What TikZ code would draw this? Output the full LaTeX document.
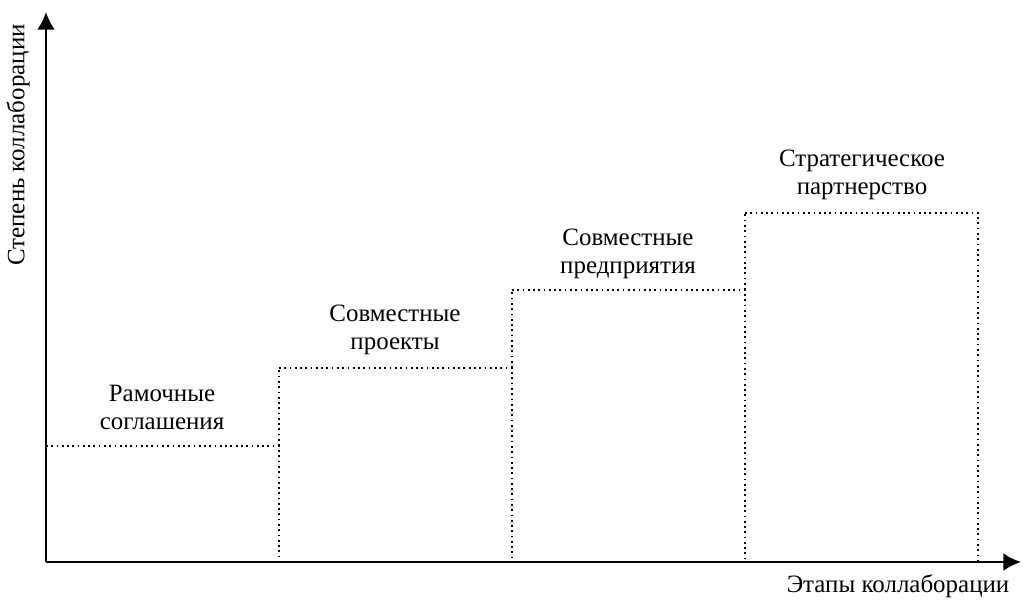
\documentclass[tikz,border=0pt]{standalone}
\usepackage{fontspec}
\setmainfont{Liberation Serif}
\usetikzlibrary{arrows.meta}
\begin{document}
\begin{tikzpicture}[x = .02cm, y = -.02cm,
  axis/.style = {line width = 1.1pt, -{Latex[length = 10pt, width = 10pt]}},
  stage/.style = {dotted, line width = 1pt},
  lbl/.style = {font = \fontsize{14.2}{16}\selectfont, align = center}]
  \useasboundingbox (0, 0) rectangle (1024, 599);
  % axes
  \coordinate (O) at (46, 562);
  \coordinate (Ytop) at (46, 12);
  \coordinate (Xend) at (1021, 562);
  \draw[axis] (O) -- (Ytop);
  \draw[axis] (O) -- (Xend);
  \node[lbl, rotate = 90] (ylab) at (18, 145) {Степень коллаборации};
  \node[lbl] (xlab) at (898, 586) {Этапы коллаборации};
  % stages
  \draw[stage] (46, 446) coordinate (s1) -- (279, 446) coordinate (s1r)
  -- (279, 562);
  \draw[stage] (279, 368) coordinate (s2) -- (512, 368) coordinate (s2r)
  -- (512, 562);
  \draw[stage] (279, 446) -- (s2);
  \draw[stage] (512, 290) coordinate (s3) -- (745, 290) coordinate (s3r)
  -- (745, 562);
  \draw[stage] (512, 368) -- (s3);
  \draw[stage] (745, 213) coordinate (s4) -- (978, 213) coordinate (s4r)
  -- (978, 562);
  \draw[stage] (745, 290) -- (s4);
  \node[lbl] (l1) at (162, 407) {Рамочные\\соглашения};
  \node[lbl] (l2) at (395, 330) {Совместные\\проекты};
  \node[lbl] (l3) at (628, 254) {Совместные\\предприятия};
  \node[lbl] (l4) at (862, 175) {Стратегическое\\партнерство};
\end{tikzpicture}
\end{document}
